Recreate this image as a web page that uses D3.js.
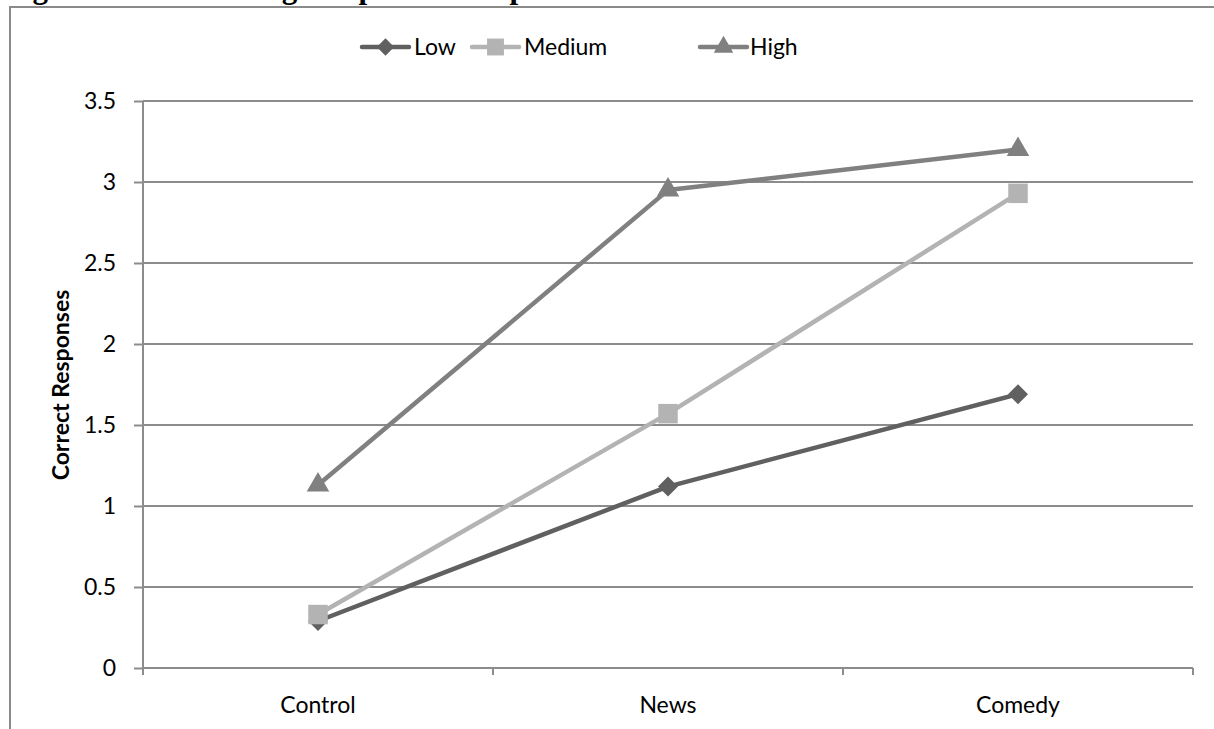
<!DOCTYPE html>
<html>
<head>
<meta charset="utf-8">
<script src="https://cdn.jsdelivr.net/npm/d3@7"></script>
<style>
  html, body { margin: 0; padding: 0; background: #fff; }
  svg { display: block; }
</style>
</head>
<body>
<svg id="chart" width="1214" height="729"></svg>
<script>
// Conditions on the x axis
const categories = ["Control", "News", "Comedy"];
// Mean correct responses per knowledge group
const lowValues = [0.29, 1.12, 1.69];
const mediumValues = [0.33, 1.57, 2.93];
const highValues = [1.13, 2.95, 3.2];
const seriesNames = ["Low", "Medium", "High"];
const yTicks = [0, 0.5, 1, 1.5, 2, 2.5, 3, 3.5];

// Square-proportioned diamond marker
const symbolRhombus = {
  draw(context, size) {
    const r = Math.sqrt(size / 2);
    context.moveTo(0, -r);
    context.lineTo(r, 0);
    context.lineTo(0, r);
    context.lineTo(-r, 0);
    context.closePath();
  }
};

const series = [
  { name: seriesNames[0], values: lowValues, color: "#606060", symbol: symbolRhombus, size: 200 },
  { name: seriesNames[1], values: mediumValues, color: "#b3b3b3", symbol: d3.symbolSquare, size: 380 },
  { name: seriesNames[2], values: highValues, color: "#808080", symbol: d3.symbolTriangle, size: 220 }
];

const svg = d3.select("#chart");
const font = "Lato, 'Open Sans', sans-serif";
const fontSize = 23;

// Page frame and caption running off the top edge
svg.append("path")
  .attr("d", "M10,729 L10,7 L1214,7")
  .attr("fill", "none").attr("stroke", "#8a8a8a").attr("stroke-width", 2);
const cap = svg.append("text")
  .attr("y", -2)
  .attr("font-family", "'Liberation Serif', 'Times New Roman', serif")
  .attr("font-weight", "bold").attr("font-size", 31).attr("fill", "#000");
cap.append("tspan").attr("x", 5).text("Figure 4.");
cap.append("tspan").attr("x", 163).text("Knowledge Gap across Experimental Conditions");

const margin = { left: 143, right: 1193, top: 101, bottom: 668 };

const x = d3.scaleBand().domain(categories).range([margin.left, margin.right]);
const y = d3.scaleLinear().domain([0, 3.5]).range([margin.bottom, margin.top]);

// Horizontal gridlines
svg.append("g")
  .selectAll("line").data(yTicks).join("line")
  .attr("x1", margin.left).attr("x2", margin.right)
  .attr("y1", d => y(d)).attr("y2", d => y(d))
  .attr("stroke", "#8c8c8c").attr("stroke-width", 2);

// Y axis
const yAxis = svg.append("g")
  .attr("transform", `translate(${margin.left},0)`)
  .call(d3.axisLeft(y).tickValues(yTicks).tickSize(9).tickPadding(18)
    .tickFormat(d => String(d)));
yAxis.select(".domain").remove();
yAxis.selectAll(".tick line").attr("stroke", "#8c8c8c").attr("stroke-width", 2);
yAxis.selectAll(".tick text")
  .attr("font-family", font).attr("font-size", fontSize).attr("fill", "#000");
svg.append("line")
  .attr("x1", margin.left).attr("x2", margin.left)
  .attr("y1", margin.top).attr("y2", margin.bottom + 7)
  .attr("stroke", "#8c8c8c").attr("stroke-width", 2);

// X axis with tick marks on category boundaries
const boundaries = categories.map(c => x(c)).concat([margin.right]);
svg.append("g")
  .selectAll("line").data(boundaries).join("line")
  .attr("x1", d => d).attr("x2", d => d)
  .attr("y1", margin.bottom).attr("y2", margin.bottom + 7)
  .attr("stroke", "#8c8c8c").attr("stroke-width", 2);
svg.append("g")
  .selectAll("text").data(categories).join("text")
  .attr("x", d => x(d) + x.bandwidth() / 2)
  .attr("y", 713)
  .attr("text-anchor", "middle")
  .attr("font-family", font).attr("font-size", fontSize).attr("fill", "#000")
  .text(d => d);

// Y axis title
svg.append("text")
  .attr("transform", "translate(69,385) rotate(-90)")
  .attr("text-anchor", "middle")
  .attr("font-family", font).attr("font-weight", "bold").attr("font-size", fontSize)
  .attr("fill", "#000")
  .text("Correct Responses");

// Series lines and markers
const line = d3.line()
  .x((d, i) => x(categories[i]) + x.bandwidth() / 2)
  .y(d => y(d));

series.forEach(s => {
  const g = svg.append("g");
  g.append("path")
    .attr("d", line(s.values))
    .attr("fill", "none").attr("stroke", s.color).attr("stroke-width", 4.5)
    .attr("stroke-linejoin", "round");
  g.selectAll("path.marker").data(s.values).join("path")
    .attr("class", "marker")
    .attr("transform", (d, i) => `translate(${x(categories[i]) + x.bandwidth() / 2},${y(d)})`)
    .attr("d", d3.symbol().type(s.symbol).size(s.size))
    .attr("fill", s.color);
});

// Legend
const legendItems = [
  { lx: 362, tx: 414 },
  { lx: 472, tx: 524 },
  { lx: 700, tx: 750 }
];
const legend = svg.append("g");
series.forEach((s, i) => {
  const it = legendItems[i];
  legend.append("line")
    .attr("x1", it.lx).attr("x2", it.lx + 47)
    .attr("y1", 47).attr("y2", 47)
    .attr("stroke", s.color).attr("stroke-width", 4.5).attr("stroke-linecap", "round");
  legend.append("path")
    .attr("transform", `translate(${it.lx + 23.5},47)`)
    .attr("d", d3.symbol().type(s.symbol).size(s.size * 0.75))
    .attr("fill", s.color);
  legend.append("text")
    .attr("x", it.tx).attr("y", 47).attr("dy", "0.35em")
    .attr("font-family", font).attr("font-size", fontSize).attr("fill", "#000")
    .text(s.name);
});
</script>
</body>
</html>
